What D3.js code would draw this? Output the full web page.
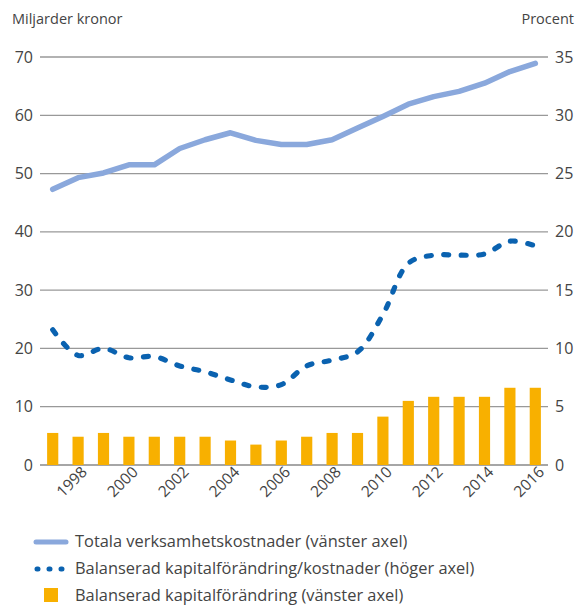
<!DOCTYPE html>
<html><head><meta charset="utf-8">
<script src="https://cdn.jsdelivr.net/npm/d3@7"></script>
<style>
html,body{margin:0;padding:0;background:#fff;}
svg text{font-family:"Open Sans",sans-serif;fill:#444;}
</style></head>
<body><svg id="c" width="578" height="606"></svg>
<script>
const years = [1997,1998,1999,2000,2001,2002,2003,2004,2005,2006,2007,2008,2009,2010,2011,2012,2013,2014,2015,2016];
const totalCosts = [47.3,49.3,50.1,51.5,51.5,54.3,55.8,57.0,55.7,55.0,55.0,55.8,57.8,59.8,61.9,63.2,64.1,65.5,67.5,68.9];
const capitalRatio = [11.6,9.4,10.0,9.2,9.3,8.5,8.0,7.3,6.7,6.9,8.5,9.0,9.7,12.9,17.3,18.0,18.0,18.1,19.2,18.8];
const capitalChange = [5.5,4.85,5.5,4.85,4.85,4.85,4.85,4.2,3.5,4.2,4.85,5.5,5.5,8.3,11.0,11.7,11.7,11.7,13.25,13.25];
const leftTicks = [0,10,20,30,40,50,60,70];
const rightTicks = [0,5,10,15,20,25,30,35];
const xLabels = [1998,2000,2002,2004,2006,2008,2010,2012,2014,2016];
const legendLabels = ["Totala verksamhetskostnader (vänster axel)","Balanserad kapitalförändring/kostnader (höger axel)","Balanserad kapitalförändring (vänster axel)"];

const cLight = "#8aa8dc", cDark = "#0a62b0", cBar = "#f8b000";
const svg = d3.select("#c");
const L = 40, R = 548, T = 57, B = 465;
const x = d3.scaleBand().domain(years).range([L, R]).paddingInner(0.56).paddingOuter(0.28);
const xc = d => x(d) + x.bandwidth()/2;
const yL = d3.scaleLinear().domain([0,70]).range([B,T]);
const yR = d3.scaleLinear().domain([0,35]).range([B,T]);
const FF = "'Open Sans', sans-serif";

// grid
svg.append("g").selectAll("line").data(leftTicks).join("line")
  .attr("x1", L).attr("x2", R).attr("y1", d=>yL(d)).attr("y2", d=>yL(d))
  .attr("stroke", d=> d===0 ? "#888" : "#999").attr("stroke-width", 1.3);

// axes
const la = svg.append("g").attr("transform",`translate(${L},0)`)
  .call(d3.axisLeft(yL).tickValues(leftTicks).tickSize(0).tickPadding(7));
la.select(".domain").remove();
la.selectAll("text").style("font-size","16px").style("font-family",FF).attr("fill","#444");
const ra = svg.append("g").attr("transform",`translate(${R},0)`)
  .call(d3.axisRight(yR).tickValues(rightTicks).tickSize(0).tickPadding(7));
ra.select(".domain").remove();
ra.selectAll("text").style("font-size","16px").style("font-family",FF).attr("fill","#444");

svg.append("text").attr("x",12).attr("y",24).style("font-size","14.5px").text("Miljarder kronor");
svg.append("text").attr("x",574).attr("y",24).attr("text-anchor","end").style("font-size","14.5px").text("Procent");

// x labels
const xa = svg.append("g").attr("transform",`translate(0,${B})`)
  .call(d3.axisBottom(x).tickValues(xLabels).tickSize(0).tickFormat(d3.format("d")));
xa.select(".domain").remove();
xa.selectAll("text").style("font-size","15.5px").style("font-family",FF).attr("fill","#444")
  .attr("text-anchor","end").attr("dy",null).attr("y",0)
  .attr("transform","translate(10,8) rotate(-45)");

// bars
svg.append("g").selectAll("rect").data(years).join("rect")
  .attr("x", d=>x(d)).attr("width", x.bandwidth())
  .attr("y", (d,i)=>yL(capitalChange[i])).attr("height",(d,i)=>B-yL(capitalChange[i]))
  .attr("fill", cBar);

// total line
svg.append("path").datum(years)
  .attr("d", d3.line().x(d=>xc(d)).y((d,i)=>yL(totalCosts[i])))
  .attr("fill","none").attr("stroke",cLight).attr("stroke-width",5.5).attr("stroke-linejoin","round").attr("stroke-linecap","round");

// dotted line
svg.append("path").datum(years)
  .attr("d", d3.line().x(d=>xc(d)).y((d,i)=>yR(capitalRatio[i])).curve(d3.curveCatmullRom.alpha(0.5)))
  .attr("fill","none").attr("stroke",cDark).attr("stroke-width",5.2).attr("stroke-linecap","round")
  .attr("stroke-dasharray","5,12.5");

// legend
const lg = svg.append("g");
lg.append("line").attr("x1",36).attr("x2",66).attr("y1",542).attr("y2",542)
  .attr("stroke",cLight).attr("stroke-width",5).attr("stroke-linecap","round");
lg.append("line").attr("x1",37).attr("x2",63).attr("y1",569).attr("y2",569)
  .attr("stroke",cDark).attr("stroke-width",5).attr("stroke-linecap","round").attr("stroke-dasharray","1,11");
lg.append("rect").attr("x",44).attr("y",588).attr("width",14).attr("height",14).attr("fill",cBar);
lg.selectAll("text").data(legendLabels).join("text")
  .attr("x",75).attr("y",(d,i)=>547+i*27).style("font-size","16.4px").text(d=>d);
</script></body></html>
